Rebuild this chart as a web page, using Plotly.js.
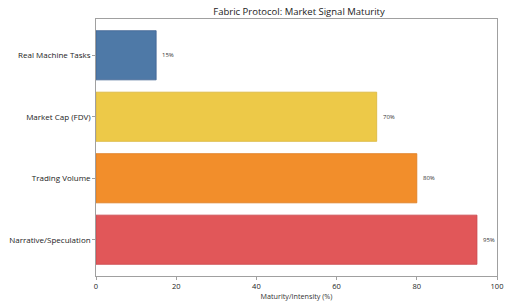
<!DOCTYPE html>
<html>
<head>
<meta charset="utf-8">
<script src="https://cdn.plot.ly/plotly-3.0.1.min.js"></script>
<style>html,body{margin:0;padding:0;background:#fff;}#chart{width:512px;height:307px;}</style>
</head>
<body>
<div id="chart"></div>
<script>
const categories = ["Real Machine Tasks", "Market Cap (FDV)", "Trading Volume", "Narrative/Speculation"];
const values = [15, 70, 80, 95];
const labels = ["15%", "70%", "80%", "95%"];
const colors = ["#4e79a7", "#edc948", "#f28e2b", "#e15759"];
const edgeColors = ["#3f6390", "#d9b53a", "#de7a1c", "#c9444a"];
const xTicks = [0, 20, 40, 60, 80, 100];

const font = "'Open Sans', sans-serif";

const trace = {
  type: "bar",
  orientation: "h",
  y: categories.map((c, i) => i),
  x: values,
  width: 0.8,
  marker: {color: colors, line: {color: edgeColors, width: 0.8}},
  hoverinfo: "none"
};

const annotations = values.map((v, i) => ({
  x: v, y: i, xref: "x", yref: "y",
  text: labels[i], showarrow: false,
  xanchor: "left", xshift: 4,
  font: {family: font, size: 6, color: "#333"}
}));

const layout = {
  width: 512, height: 307,
  margin: {l: 96, r: 15, t: 19, b: 31},
  paper_bgcolor: "#fff", plot_bgcolor: "#fff",
  showlegend: false,
  title: {text: "Fabric Protocol: Market Signal Maturity", x: 0.584, xanchor: "center", y: 0.963, yanchor: "middle",
          font: {family: font, size: 9.5, color: "#222", weight: 400}},
  xaxis: {
    range: [0, 100], tickvals: xTicks, ticktext: xTicks.map(String),
    ticks: "outside", ticklen: 3, tickcolor: "#888", tickwidth: 0.8,
    showgrid: false, zeroline: false,
    showline: true, linecolor: "#888", linewidth: 0.8, mirror: true,
    tickfont: {family: font, size: 7.5, color: "#222"},
    title: {text: "Maturity/Intensity (%)", font: {family: font, size: 7.2, color: "#333"}, standoff: 4}
  },
  yaxis: {
    range: [3.59, -0.59],
    tickvals: categories.map((c, i) => i), ticktext: categories,
    ticks: "outside", ticklen: 3, tickcolor: "#888", tickwidth: 0.8,
    showgrid: false, zeroline: false,
    showline: true, linecolor: "#888", linewidth: 0.8, mirror: true,
    tickfont: {family: font, size: 8, color: "#222"}
  },
  annotations: annotations
};

Plotly.newPlot("chart", [trace], layout, {displayModeBar: false, staticPlot: true});
</script>
</body>
</html>
